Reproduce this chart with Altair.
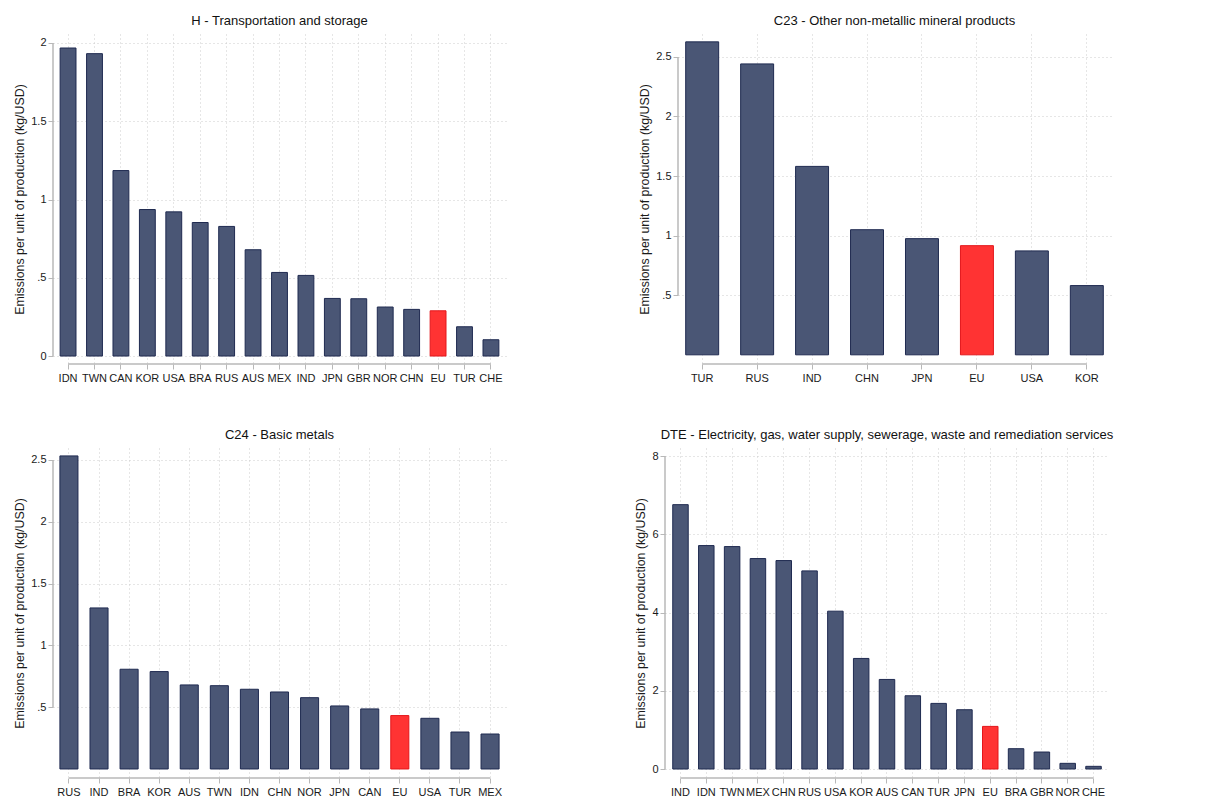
import altair as alt
import pandas as pd

# ---- data ----
h_countries = ["IDN", "TWN", "CAN", "KOR", "USA", "BRA", "RUS", "AUS", "MEX", "IND", "JPN", "GBR", "NOR", "CHN", "EU", "TUR", "CHE"]
h_values = [1.968, 1.932, 1.185, 0.936, 0.921, 0.853, 0.828, 0.679, 0.534, 0.515, 0.368, 0.366, 0.313, 0.298, 0.289, 0.187, 0.104]
h_ticks = [0, 0.5, 1, 1.5, 2]

c23_countries = ["TUR", "RUS", "IND", "CHN", "JPN", "EU", "USA", "KOR"]
c23_values = [2.626, 2.441, 1.581, 1.050, 0.975, 0.916, 0.872, 0.581]
c23_ticks = [0.5, 1, 1.5, 2, 2.5]

c24_countries = ["RUS", "IND", "BRA", "KOR", "AUS", "TWN", "IDN", "CHN", "NOR", "JPN", "CAN", "EU", "USA", "TUR", "MEX"]
c24_values = [2.533, 1.303, 0.807, 0.788, 0.680, 0.674, 0.645, 0.623, 0.577, 0.510, 0.486, 0.432, 0.410, 0.299, 0.283]
c24_ticks = [0.5, 1, 1.5, 2, 2.5]

dte_countries = ["IND", "IDN", "TWN", "MEX", "CHN", "RUS", "USA", "KOR", "AUS", "CAN", "TUR", "JPN", "EU", "BRA", "GBR", "NOR", "CHE"]
dte_values = [6.757, 5.711, 5.685, 5.379, 5.328, 5.064, 4.034, 2.826, 2.289, 1.872, 1.677, 1.515, 1.089, 0.519, 0.434, 0.145, 0.068]
dte_ticks = [0, 2, 4, 6, 8]

titles = [
    "H - Transportation and storage",
    "C23 - Other non-metallic mineral products",
    "C24 - Basic metals",
    "DTE - Electricity, gas, water supply, sewerage, waste and remediation services",
]
y_title = "Emissions per unit of production (kg/USD)"

FONT = "Liberation Sans"
BAR = "#4a5675"
BAR_STROKE = "#1f2a50"
EU_FILL = "#ff3333"
EU_STROKE = "#e3161b"
AXIS_C = "#b8b8b8"
GRID_C = "#cccccc"
TXT = "#1a1a1a"

LABEL_EXPR = ("datum.value > 0 && datum.value < 1 ? '.' + slice(toString(datum.value), 2) "
              ": toString(datum.value)")


def panel(title, cats, vals, ticks, ydom, width, height, pad_outer):
    df = pd.DataFrame({"country": cats, "value": vals})
    ydf = pd.DataFrame({"lo": [ticks[0]], "hi": [ticks[-1]]})
    xdf = pd.DataFrame({"a": [cats[0]], "b": [cats[-1]]})

    xscale = alt.Scale(domain=cats, paddingInner=0.4, paddingOuter=pad_outer)
    yscale = alt.Scale(domain=ydom, nice=False, zero=False)

    xaxis = alt.Axis(title=None, domain=False, grid=True, gridDash=[1, 3], gridColor=GRID_C,
                     gridWidth=1, ticks=True, tickSize=5, tickColor=AXIS_C, labelAngle=0,
                     labelFontSize=11, labelFont=FONT, labelColor=TXT, labelPadding=3)
    yaxis = alt.Axis(title=y_title, values=ticks, domain=False, grid=True, gridDash=[1, 3],
                     gridColor=GRID_C, gridWidth=1, ticks=True, tickSize=5, tickColor=AXIS_C,
                     labelFontSize=11, labelFont=FONT, labelColor=TXT, labelPadding=2,
                     labelExpr=LABEL_EXPR, titleFont=FONT, titleFontSize=12.4,
                     titleFontWeight="normal", titleColor=TXT, titlePadding=4)

    bars = alt.Chart(df).mark_bar(strokeWidth=1).encode(
        x=alt.X("country:N", scale=xscale, axis=xaxis),
        y=alt.Y("value:Q", scale=yscale, axis=yaxis),
        y2=alt.datum(0),
        fill=alt.condition(alt.datum.country == "EU", alt.value(EU_FILL), alt.value(BAR)),
        stroke=alt.condition(alt.datum.country == "EU", alt.value(EU_STROKE), alt.value(BAR_STROKE)),
    )
    yline = alt.Chart(ydf).mark_rule(color=AXIS_C, strokeWidth=1.5).encode(
        x=alt.value(0),
        y=alt.Y("lo:Q", scale=yscale),
        y2="hi:Q",
    )
    xline = alt.Chart(xdf).mark_rule(color=AXIS_C, strokeWidth=1.5).encode(
        x=alt.X("a:N", scale=xscale),
        x2="b:N",
        y=alt.value(height),
    )
    return alt.layer(bars, yline, xline).properties(
        width=width, height=height,
        title=alt.TitleParams(title, font=FONT, fontSize=13, fontWeight="normal",
                              color="#111111", anchor="middle", frame="group", offset=6),
    )


p1 = panel(titles[0], h_countries, h_values, h_ticks, [-0.051, 2.0575], 453, 330, 0.27)
p2 = panel(titles[1], c23_countries, c23_values, c23_ticks, [-0.077, 2.692], 433, 330, 0.14)
p3 = panel(titles[2], c24_countries, c24_values, c24_ticks, [-0.073, 2.597], 453, 330, 0.23)
p4 = panel(titles[3], dte_countries, dte_values, dte_ticks, [-0.23, 8.205], 444, 330, 0.3)

chart = alt.vconcat(
    alt.hconcat(p1, p2, spacing=132),
    alt.hconcat(p3, p4, spacing=128),
    spacing=46,
).properties(
    padding={"top": 7, "left": 5, "right": 5, "bottom": 2}
).configure(background="white").configure_view(strokeWidth=0, stroke="transparent")

chart.save("out.html", embed_options={"renderer": "svg", "actions": False})
